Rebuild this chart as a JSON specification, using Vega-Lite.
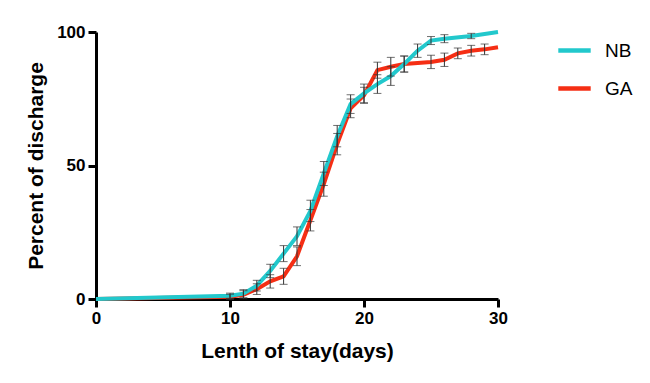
{
  "$schema": "https://vega.github.io/schema/vega-lite/v6.json",
  "width": 402,
  "height": 267,
  "autosize": {"type": "none"},
  "padding": {"left": 96, "top": 32, "right": 152, "bottom": 84},
  "background": "white",
  "config": {
    "view": {"stroke": null},
    "font": "Liberation Sans"
  },
  "data": {
    "values": [
      {"group": "GA", "day": 0, "y": 0},
      {"group": "GA", "day": 10, "y": 0.8, "lo": -0.2, "hi": 1.8},
      {"group": "GA", "day": 11, "y": 1.6, "lo": 0.1, "hi": 3.1},
      {"group": "GA", "day": 12, "y": 3.7, "lo": 1.7, "hi": 5.7},
      {"group": "GA", "day": 13, "y": 6.6, "lo": 4.1, "hi": 9.1},
      {"group": "GA", "day": 14, "y": 8.5, "lo": 5.5, "hi": 11.5},
      {"group": "GA", "day": 15, "y": 16, "lo": 12.5, "hi": 19.5},
      {"group": "GA", "day": 16, "y": 29.5, "lo": 25.5, "hi": 33.5},
      {"group": "GA", "day": 17, "y": 43, "lo": 38.5, "hi": 47.5},
      {"group": "GA", "day": 18, "y": 58, "lo": 54, "hi": 62},
      {"group": "GA", "day": 19, "y": 71.4, "lo": 67.9, "hi": 74.9},
      {"group": "GA", "day": 20, "y": 76.3, "lo": 73.3, "hi": 79.3},
      {"group": "GA", "day": 21, "y": 85.7, "lo": 82.7, "hi": 88.7},
      {"group": "GA", "day": 22, "y": 87, "lo": 83.5, "hi": 90.5},
      {"group": "GA", "day": 23, "y": 88, "lo": 85, "hi": 91},
      {"group": "GA", "day": 25, "y": 88.8, "lo": 86.3, "hi": 91.3},
      {"group": "GA", "day": 26, "y": 89.6, "lo": 87.1, "hi": 92.1},
      {"group": "GA", "day": 27, "y": 92, "lo": 90, "hi": 94},
      {"group": "GA", "day": 28, "y": 93, "lo": 91, "hi": 95},
      {"group": "GA", "day": 29, "y": 93.5, "lo": 91.5, "hi": 95.5},
      {"group": "GA", "day": 30, "y": 94.3},
      {"group": "NB", "day": 0, "y": 0},
      {"group": "NB", "day": 10, "y": 1.2, "lo": 0.2, "hi": 2.2},
      {"group": "NB", "day": 11, "y": 2, "lo": 0.5, "hi": 3.5},
      {"group": "NB", "day": 12, "y": 5, "lo": 3, "hi": 7},
      {"group": "NB", "day": 13, "y": 10.5, "lo": 8, "hi": 13},
      {"group": "NB", "day": 14, "y": 17, "lo": 14, "hi": 20},
      {"group": "NB", "day": 15, "y": 23.5, "lo": 20, "hi": 27},
      {"group": "NB", "day": 16, "y": 33, "lo": 29, "hi": 37},
      {"group": "NB", "day": 17, "y": 47, "lo": 42.5, "hi": 51.5},
      {"group": "NB", "day": 18, "y": 61, "lo": 57, "hi": 65},
      {"group": "NB", "day": 19, "y": 73, "lo": 69.5, "hi": 76.5},
      {"group": "NB", "day": 20, "y": 77, "lo": 73.5, "hi": 80.5},
      {"group": "NB", "day": 21, "y": 80.5, "lo": 77, "hi": 84},
      {"group": "NB", "day": 22, "y": 83.5, "lo": 80, "hi": 87},
      {"group": "NB", "day": 23, "y": 88, "lo": 85, "hi": 91},
      {"group": "NB", "day": 24, "y": 93, "lo": 90.5, "hi": 95.5},
      {"group": "NB", "day": 25, "y": 96.8, "lo": 95.3, "hi": 98.3},
      {"group": "NB", "day": 26, "y": 97.5, "lo": 96, "hi": 99},
      {"group": "NB", "day": 28, "y": 98.5, "lo": 97.5, "hi": 99.5},
      {"group": "NB", "day": 30, "y": 100}
    ]
  },
  "encoding": {
    "x": {
      "field": "day",
      "type": "quantitative",
      "scale": {"domain": [0, 30], "nice": false, "zero": false},
      "axis": {
        "values": [0, 10, 20, 30],
        "grid": false,
        "labelFlush": false,
        "domainColor": "black",
        "domainWidth": 3,
        "tickColor": "black",
        "tickWidth": 3,
        "tickSize": 8,
        "labelFont": "Liberation Sans",
        "labelFontWeight": "bold",
        "labelFontSize": 17,
        "labelColor": "black",
        "labelPadding": 3,
        "title": "Lenth of stay(days)",
        "titleFont": "Liberation Sans",
        "titleFontWeight": "bold",
        "titleFontSize": 21,
        "titleColor": "black",
        "titlePadding": 14
      }
    }
  },
  "layer": [
    {
      "mark": {"type": "line", "strokeWidth": 4},
      "encoding": {
        "y": {
          "field": "y",
          "type": "quantitative",
          "scale": {"domain": [0, 100], "nice": false},
          "title": "Percent of discharge",
          "axis": {
            "values": [0, 50, 100],
            "grid": false,
            "labelFlush": false,
            "domainColor": "black",
            "domainWidth": 3,
            "tickColor": "black",
            "tickWidth": 3,
            "tickSize": 8,
            "labelFont": "Liberation Sans",
            "labelFontWeight": "bold",
            "labelFontSize": 17,
            "labelColor": "black",
            "labelPadding": 3,
            "titleFont": "Liberation Sans",
            "titleFontWeight": "bold",
            "titleFontSize": 21,
            "titleColor": "black",
            "titlePadding": 10
          }
        },
        "color": {
          "field": "group",
          "type": "nominal",
          "scale": {"domain": ["NB", "GA"], "range": ["#22C8CC", "#F52E14"]},
          "legend": {
            "title": null,
            "orient": "none",
            "legendX": 460,
            "legendY": 0,
            "symbolType": "stroke",
            "symbolStrokeWidth": 4.5,
            "symbolSize": 1050,
            "labelFont": "Liberation Sans",
            "labelFontSize": 19,
            "labelColor": "black",
            "labelOffset": 12,
            "rowPadding": 9
          }
        },
        "order": {"field": "day", "type": "quantitative"}
      }
    },
    {
      "transform": [{"filter": "isValid(datum.lo)"}],
      "mark": {"type": "errorbar", "ticks": {"size": 8, "color": "#333333", "strokeWidth": 1}, "rule": {"color": "#333333", "strokeWidth": 1}},
      "encoding": {
        "y": {"field": "lo", "type": "quantitative", "title": "Percent of discharge"},
        "y2": {"field": "hi"},
        "detail": {"field": "group"}
      }
    }
  ]
}
